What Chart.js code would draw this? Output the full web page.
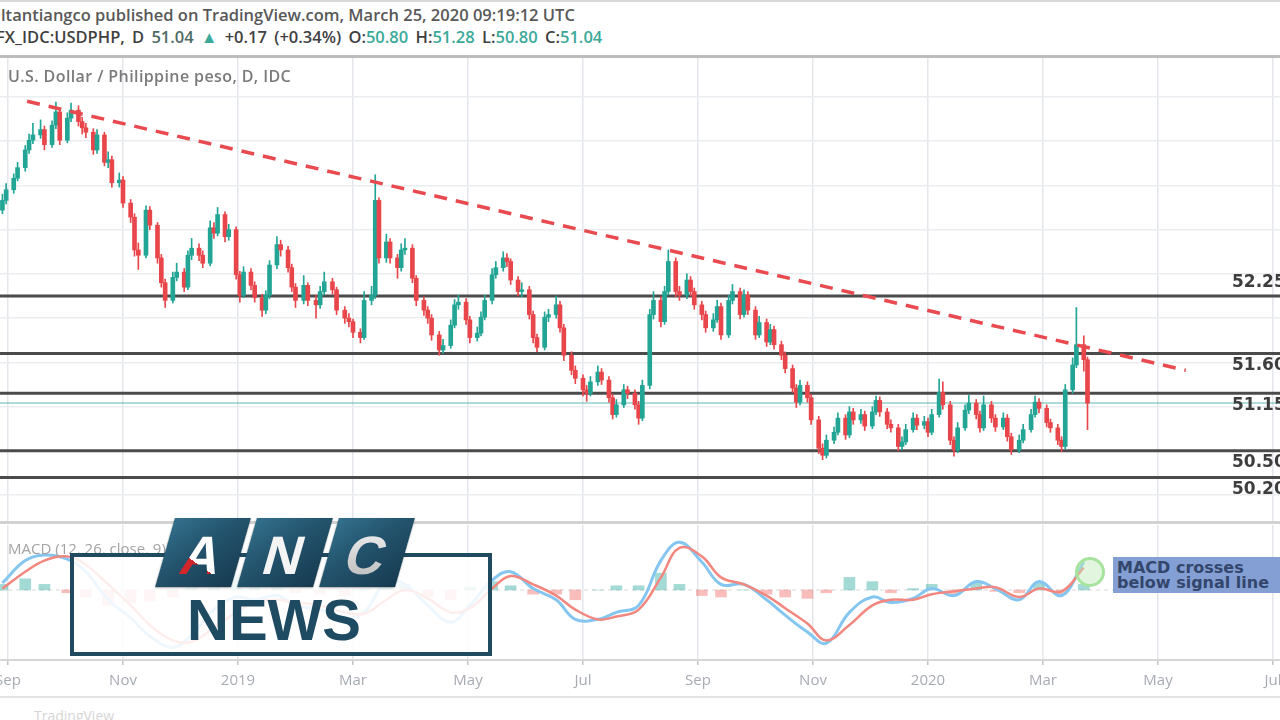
<!DOCTYPE html>
<html>
<head>
<meta charset="utf-8">
<script src="https://cdn.jsdelivr.net/npm/chart.js@4.4.1/dist/chart.umd.min.js"></script>
<style>
  html,body{margin:0;padding:0;background:#fff;}
  #stage{position:relative;width:1280px;height:720px;overflow:hidden;background:#fff;font-family:'Open Sans',sans-serif;}
  .abs{position:absolute;}
  .hl{position:absolute;left:0;width:1280px;}
  .t{color:#3aa99a;}
  .tile{position:absolute;top:518px;width:76px;height:69px;transform:skewX(-16deg);
        background:linear-gradient(140deg,#33708c 0%,#23536c 45%,#163a50 100%);
        box-shadow:0 1px 2px rgba(0,0,0,0.35);}
  .tile span{position:absolute;left:0;width:76px;top:8px;text-align:center;
        font:bold 54px 'Liberation Sans',Arial,sans-serif;line-height:58px;}
</style>
</head>
<body>
<div id="stage">
  <canvas id="priceChart" class="abs" style="left:0;top:58px" width="1280" height="465"></canvas>
  <canvas id="macdChart" class="abs" style="left:0;top:525px" width="1280" height="172"></canvas>

  <!-- header -->
  <div class="hl" style="top:0;height:2px;background:#d9d9d9"></div>
  <div class="abs" style="left:1px;top:3px;font:600 16.5px 'Open Sans';color:#585858;white-space:nowrap">ltantiangco published on TradingView.com, March 25, 2020 09:19:12 UTC</div>
  <div class="abs" style="left:-4px;top:25px;font:600 16.5px 'Open Sans';color:#3f3f3f;white-space:nowrap;word-spacing:3px">FX_IDC:USDPHP, D <span style="color:#4e6b63">51.04</span> <span class="t">&#9650;</span> +0.17 (+0.34%) O:<span class="t">50.80</span> H:<span class="t">51.28</span> L:<span class="t">50.80</span> C:<span class="t">51.04</span></div>
  <div class="hl" style="top:55px;height:3px;background:#bcbcbc"></div>
  <div class="abs" style="left:8px;top:65px;font:600 16px 'Open Sans';letter-spacing:0.4px;color:#7a7a7a;white-space:nowrap">U.S. Dollar / Philippine peso, D, IDC</div>

  <div class="hl" style="top:521px;height:3px;background:#d2d2d2"></div>
  <div class="abs" style="left:8px;top:538px;font:15px 'Open Sans';color:#a3a3a3;white-space:nowrap">MACD (12, 26, close, 9)</div>
  <div class="hl" style="top:659px;height:2px;background:#d6d6d6"></div>
  <div class="hl" style="top:696px;height:2px;background:#e4e4e4"></div>
  <div class="abs" style="left:34px;top:706px;font:14px 'Open Sans';color:#d6d6d6">TradingView</div>

  <!-- MACD annotation -->
  <div class="abs" style="left:1075px;top:557px;width:24px;height:24px;border-radius:50%;border:3px solid #a6e39c;background:rgba(190,236,184,0.45)"></div>
  <div class="abs" style="left:1113px;top:557px;width:167px;height:36px;background:#839fd4;color:#33466b;font:bold 16px 'DejaVu Sans';line-height:15px;padding:3px 0 0 4px;box-sizing:border-box;white-space:nowrap">MACD crosses<br>below signal line</div>

  <!-- ANC NEWS overlay -->
  <div class="abs" style="left:70px;top:553px;width:422px;height:103px;box-sizing:border-box;border:4px solid #1f4a60;background:rgba(255,255,255,0.86)"></div>
  <div class="abs" style="left:187px;top:591px;font:bold 58px 'Liberation Sans',Arial,sans-serif;line-height:58px;color:#1e4a62;white-space:nowrap">NEWS</div>
  <div class="tile" style="left:165px"><span style="background:linear-gradient(30deg,#d3262b 0 40%,#ffffff 40%);-webkit-background-clip:text;background-clip:text;color:transparent">A</span></div>
  <div class="tile" style="left:247px"><span style="color:#f4f4f4">N</span></div>
  <div class="tile" style="left:329px"><span style="background:linear-gradient(180deg,#f2f2f2,#b9b9b9);-webkit-background-clip:text;background-clip:text;color:transparent">C</span></div>
</div>

<script>
// ---------------- DATA ----------------
const firstCandleDate = '2018-08-29';   // first visible candle
const tradingDaysPerCandle = 2;         // each candle covers two trading days
const firstOpen = 53.22;

const closes = [53.33,53.45,53.58,53.70,53.90,54.01,54.07,54.13,53.96,54.18,
54.33,54.01,54.26,54.35,54.22,54.15,54.10,53.90,54.07,53.76,
53.79,53.53,53.56,53.30,53.14,52.77,52.71,53.22,53.05,52.68,
52.40,52.20,52.46,52.52,52.35,52.71,52.79,52.71,52.62,53.02,
52.96,53.17,52.92,53.00,52.49,52.26,52.52,52.37,52.23,52.09,
52.26,52.60,52.83,52.77,52.57,52.35,52.20,52.37,52.20,52.15,
52.30,52.41,52.32,52.09,52.00,51.96,51.84,51.78,52.20,52.26,
53.33,52.68,52.86,52.68,52.57,52.77,52.79,52.45,52.20,52.09,
52.00,51.81,51.64,51.69,51.92,52.15,52.18,51.98,51.78,51.83,
52.01,52.20,52.49,52.57,52.68,52.64,52.43,52.30,52.32,52.04,
51.78,51.67,52.01,52.04,52.15,51.89,51.58,51.41,51.32,51.19,
51.15,51.28,51.39,51.30,51.10,50.91,51.02,51.19,51.15,51.02,
50.87,51.24,52.04,52.20,51.96,52.30,52.64,52.30,52.26,52.43,
52.30,52.15,52.04,51.89,51.98,52.13,51.81,52.20,52.30,52.04,
52.26,52.09,51.81,51.95,51.73,51.87,51.70,51.58,51.43,51.21,
51.05,51.24,51.10,50.85,50.53,50.45,50.62,50.71,50.87,50.68,
50.94,50.85,50.91,50.78,50.94,51.07,50.94,50.80,50.76,50.55,
50.60,50.74,50.87,50.79,50.83,50.71,50.91,51.16,51.02,50.62,
50.51,50.76,50.96,51.04,50.91,50.76,51.02,50.87,50.77,50.87,
50.66,50.51,50.62,50.74,50.91,51.05,50.98,50.82,50.76,50.62,
50.55,51.19,51.47,51.70,51.53,51.04];

const highs = [53.40,53.52,53.63,53.76,53.95,54.08,54.20,54.24,54.17,54.23,
54.44,54.37,54.32,54.43,54.40,54.27,54.20,54.14,54.13,54.10,
53.88,53.83,53.64,53.60,53.34,53.18,52.85,53.27,53.26,53.08,
52.72,52.44,52.52,52.62,52.56,52.76,52.90,52.84,52.76,53.10,
53.08,53.25,53.20,53.06,53.03,52.53,52.58,52.56,52.41,52.27,
52.31,52.65,52.92,52.88,52.81,52.61,52.39,52.48,52.40,52.26,
52.36,52.52,52.45,52.35,52.13,52.05,51.99,51.88,52.30,52.36,
53.62,53.36,52.95,52.90,52.72,52.84,52.90,52.83,52.48,52.24,
52.13,52.04,51.85,51.76,51.98,52.21,52.26,52.22,52.02,51.90,
52.07,52.26,52.56,52.64,52.75,52.73,52.67,52.47,52.40,52.36,
52.08,51.82,52.07,52.10,52.25,52.19,51.93,51.62,51.46,51.36,
51.24,51.34,51.46,51.43,51.34,51.14,51.08,51.25,51.23,51.19,
51.06,51.30,52.10,52.30,52.24,52.36,52.77,52.68,52.36,52.50,
52.47,52.34,52.19,52.08,52.05,52.20,52.17,52.26,52.38,52.34,
52.32,52.30,52.13,52.02,51.99,51.93,51.91,51.74,51.62,51.47,
51.25,51.30,51.28,51.14,50.89,50.58,50.68,50.77,50.93,50.91,
51.00,50.98,50.97,50.95,51.00,51.12,51.11,50.98,50.85,50.80,
50.66,50.80,50.93,50.91,50.89,50.87,50.97,51.31,51.28,51.06,
50.66,50.82,51.02,51.13,51.08,50.95,51.12,51.06,50.91,50.93,
50.91,50.70,50.68,50.80,50.97,51.12,51.09,51.02,50.86,50.80,
50.66,51.25,51.55,52.12,51.80,51.56];

const lows = [53.18,53.29,53.41,53.55,53.66,53.86,53.97,54.03,53.90,53.93,
54.14,53.96,53.98,54.22,54.17,54.08,54.04,53.85,53.86,53.72,
53.70,53.48,53.48,53.25,53.08,52.70,52.55,52.68,53.00,52.62,
52.35,52.12,52.17,52.42,52.30,52.32,52.66,52.65,52.57,52.59,
52.90,52.93,52.86,52.88,52.44,52.18,52.23,52.32,52.18,52.02,
52.05,52.22,52.56,52.70,52.52,52.30,52.12,52.16,52.14,52.00,
52.11,52.26,52.27,52.04,51.94,51.90,51.78,51.72,51.76,52.15,
52.22,52.62,52.63,52.62,52.45,52.53,52.72,52.40,52.14,52.03,
51.94,51.75,51.58,51.60,51.66,51.89,52.10,51.93,51.72,51.74,
51.80,51.98,52.16,52.45,52.53,52.58,52.38,52.25,52.24,51.99,
51.72,51.62,51.64,51.96,52.00,51.84,51.52,51.36,51.26,51.12,
51.06,51.12,51.24,51.25,51.05,50.86,50.88,50.99,51.09,50.97,
50.80,50.84,51.20,51.99,51.90,51.93,52.26,52.24,52.20,52.22,
52.25,52.10,51.98,51.84,51.85,51.95,51.76,51.78,52.16,51.99,
52.01,52.04,51.76,51.78,51.68,51.70,51.65,51.53,51.38,51.16,
50.99,51.02,51.05,50.80,50.47,50.40,50.42,50.58,50.68,50.63,
50.65,50.80,50.81,50.73,50.75,50.91,50.89,50.75,50.71,50.50,
50.51,50.57,50.71,50.74,50.75,50.66,50.68,50.88,50.97,50.57,
50.44,50.48,50.73,50.92,50.86,50.71,50.73,50.82,50.72,50.74,
50.61,50.46,50.48,50.59,50.71,50.88,50.93,50.77,50.71,50.57,
50.49,50.52,51.15,51.44,51.40,50.74];

// MACD (12,26,9): one reading every 4 candles
const macdEvery = 4;
const macdLine = [0.05,0.21,0.25,0.22,0.13,-0.07,-0.20,-0.33,-0.41,-0.32,
-0.14,-0.05,-0.07,-0.04,-0.11,-0.14,-0.20,-0.16,0.06,0.04,
-0.11,-0.23,-0.11,0.07,0.13,0.01,-0.07,-0.21,-0.21,-0.16,
-0.11,0.21,0.34,0.20,0.04,0.04,-0.07,-0.18,-0.30,-0.38,
-0.16,-0.05,-0.09,-0.06,0.01,-0.04,0.06,0.01,-0.07,0.06,
-0.04,0.20];
const signalLine = [0.01,0.13,0.21,0.24,0.18,0.04,-0.11,-0.25,-0.36,-0.37,
-0.27,-0.16,-0.09,-0.07,-0.09,-0.11,-0.16,-0.17,-0.07,0.00,
-0.06,-0.16,-0.13,0.01,0.10,0.04,-0.04,-0.14,-0.21,-0.19,
-0.14,0.09,0.30,0.24,0.09,0.04,-0.04,-0.13,-0.24,-0.36,
-0.25,-0.11,-0.07,-0.07,-0.03,-0.01,0.01,0.02,-0.05,0.01,
-0.01,0.16];
const histogram = [0.04,0.08,0.04,-0.02,-0.05,-0.11,-0.09,-0.08,-0.05,0.05,
0.13,0.11,0.02,0.03,-0.02,-0.03,-0.04,0.01,0.13,0.04,
-0.05,-0.07,0.02,0.06,0.03,-0.03,-0.03,-0.07,0.00,0.03,
0.03,0.12,0.04,-0.04,-0.05,0.00,-0.03,-0.05,-0.06,-0.02,
0.09,0.06,-0.02,0.01,0.04,-0.03,0.05,-0.01,-0.02,0.05,
-0.03,0.04];

// horizontal levels and trend line drawn on the chart
const levels = [52.25, 51.60, 51.15, 50.50, 50.20];
const levelLabelAbove = [true, false, false, false, false];
const lastPrice = 51.04;
const trendLine = [{date:'2018-09-11', price:54.45}, {date:'2020-05-16', price:51.41}];

// time axis ticks (month offsets from Sep 2018)
const tickMonths = [0,2,4,6,8,10,12,14,16,18,20,22];
const tickLabels = ['Sep','Nov','2019','Mar','May','Jul','Sep','Nov','2020','Mar','May','Jul'];

// visible windows
const xWindow = {min:-0.139, max:22.122};
const priceWindow = {min:49.685, max:54.939};
const macdWindow = {min:-0.50, max:0.464};

// ---------------- HELPERS ----------------
function monthPos(d){
  const y=d.getUTCFullYear(), m=d.getUTCMonth();
  const dim=new Date(Date.UTC(y,m+1,0)).getUTCDate();
  return (y-2018)*12 + (m-8) + (d.getUTCDate()-1)/dim;
}
function parseDate(s){ return new Date(s+'T00:00:00Z'); }
function tradingDates(start, count, step){
  const out=[]; const d=parseDate(start); let n=0;
  while(out.length<count){
    const wd=d.getUTCDay();
    if(wd!==0 && wd!==6){ if(n%step===0) out.push(new Date(d)); n++; }
    d.setUTCDate(d.getUTCDate()+1);
  }
  return out;
}

const dates = tradingDates(firstCandleDate, closes.length, tradingDaysPerCandle);
const xs = dates.map(monthPos);
const opens = closes.map((c,i)=> i===0 ? firstOpen : closes[i-1]); // FX candles open at prior close
const UP='#22a595', DOWN='#e8464a';
const candleColors = closes.map((c,i)=> c>=opens[i] ? UP : DOWN);

const wickData = xs.map((x,i)=>({x, y:[lows[i], highs[i]]}));
const bodyData = xs.map((x,i)=>({x, y:[opens[i], closes[i]]}));
const trendData = trendLine.map(p=>({x:monthPos(parseDate(p.date)), y:p.price}));

const macdXs = macdLine.map((_,k)=> xs[Math.min(k*macdEvery, xs.length-1)]);
const macdData = macdLine.map((v,k)=>({x:macdXs[k], y:v}));
const signalData = signalLine.map((v,k)=>({x:macdXs[k], y:v}));
const histData = histogram.map((v,k)=>({x:macdXs[k], y:v}));

// ---------------- PLUGINS ----------------
const levelPlugin = {
  id:'levels',
  beforeDatasetsDraw(chart){
    const {ctx, chartArea:{left,right}, scales:{y}} = chart;
    ctx.save();
    const lp = y.getPixelForValue(lastPrice);
    ctx.strokeStyle='rgba(38,166,154,0.38)'; ctx.lineWidth=2;
    ctx.beginPath(); ctx.moveTo(left,lp); ctx.lineTo(right,lp); ctx.stroke();
    levels.forEach(v=>{
      const p=y.getPixelForValue(v);
      ctx.strokeStyle='#4b4b4b'; ctx.lineWidth=3;
      ctx.beginPath(); ctx.moveTo(left,p); ctx.lineTo(right,p); ctx.stroke();
    });
    ctx.restore();
  },
  afterDatasetsDraw(chart){
    const {ctx, scales:{y}} = chart;
    ctx.save();
    ctx.font="bold 17px 'DejaVu Sans'";
    ctx.fillStyle='#3d3d3d';
    ctx.textBaseline='middle';
    levels.forEach((v,i)=>{
      const p=y.getPixelForValue(v);
      ctx.fillText(v.toFixed(2), 1232, levelLabelAbove[i] ? p-13 : p+12);
    });
    ctx.restore();
  }
};
const zeroPlugin = {
  id:'zero',
  beforeDatasetsDraw(chart){
    const {ctx, chartArea:{left,right}, scales:{y}} = chart;
    const p=y.getPixelForValue(0);
    ctx.save(); ctx.strokeStyle='#d9d9d9'; ctx.lineWidth=1; ctx.setLineDash([4,4]);
    ctx.beginPath(); ctx.moveTo(left,p); ctx.lineTo(right,p); ctx.stroke(); ctx.restore();
  }
};

const gridColor='#e3e6eb';
const setMonthTicks = s => { s.ticks = tickMonths.map(v=>({value:v})); };

// ---------------- PRICE CHART ----------------
new Chart(document.getElementById('priceChart'), {
  type:'bar',
  data:{datasets:[
    {type:'line', data:trendData, borderColor:'#e84a4f', borderWidth:3.5, borderDash:[13,9],
     pointRadius:0, fill:false, order:0},
    {data:wickData, backgroundColor:candleColors, barThickness:1, grouped:false, order:2},
    {data:bodyData, backgroundColor:candleColors, barThickness:4, minBarLength:1, grouped:false, order:1}
  ]},
  options:{
    responsive:false, animation:false, events:[],
    layout:{padding:0},
    plugins:{legend:{display:false}, tooltip:{enabled:false}},
    scales:{
      x:{type:'linear', min:xWindow.min, max:xWindow.max, offset:false,
         afterBuildTicks:setMonthTicks,
         afterFit:s=>{s.height=0; s.paddingLeft=0; s.paddingRight=0;},
         ticks:{display:false}, grid:{offset:false, color:gridColor, lineWidth:1.5, drawTicks:false}, border:{display:false}},
      y:{min:priceWindow.min, max:priceWindow.max,
         ticks:{display:false, stepSize:0.5},
         afterBuildTicks:s=>{ s.ticks = s.ticks.filter(t=>Math.abs(t.value*2-Math.round(t.value*2))<1e-6); },
         afterFit:s=>{s.width=0;},
         grid:{color:'#ebedf0', lineWidth:1.5, drawTicks:false}, border:{display:false}}
    }
  },
  plugins:[levelPlugin]
});

// ---------------- MACD CHART ----------------
new Chart(document.getElementById('macdChart'), {
  type:'bar',
  data:{datasets:[
    {data:histData, backgroundColor:histogram.map(v=> v>=0 ? 'rgba(38,166,154,0.42)' : 'rgba(239,83,80,0.38)'),
     barThickness:11, order:2},
    {type:'line', data:macdData, borderColor:'#84c6f0', borderWidth:3, tension:0.4, pointRadius:0, order:1},
    {type:'line', data:signalData, borderColor:'#f2877f', borderWidth:2.5, tension:0.4, pointRadius:0, order:0}
  ]},
  options:{
    responsive:false, animation:false, events:[],
    layout:{padding:0},
    plugins:{legend:{display:false}, tooltip:{enabled:false}},
    scales:{
      x:{type:'linear', min:xWindow.min, max:xWindow.max, offset:false,
         afterBuildTicks:setMonthTicks,
         afterFit:s=>{s.height=37; s.paddingLeft=0; s.paddingRight=0;},
         ticks:{autoSkip:false, maxRotation:0, minRotation:0, padding:7,
                color:'#a7abb2', font:{family:'Open Sans', size:15},
                callback:(v,i)=>tickLabels[i]},
         grid:{offset:false, color:gridColor, lineWidth:1.5, drawTicks:true, tickLength:5, tickColor:'#c4c4c4'},
         border:{display:false}},
      y:{min:macdWindow.min, max:macdWindow.max, ticks:{display:false},
         afterFit:s=>{s.width=0;}, grid:{display:false}, border:{display:false}}
    }
  },
  plugins:[zeroPlugin]
});
</script>
</body>
</html>
